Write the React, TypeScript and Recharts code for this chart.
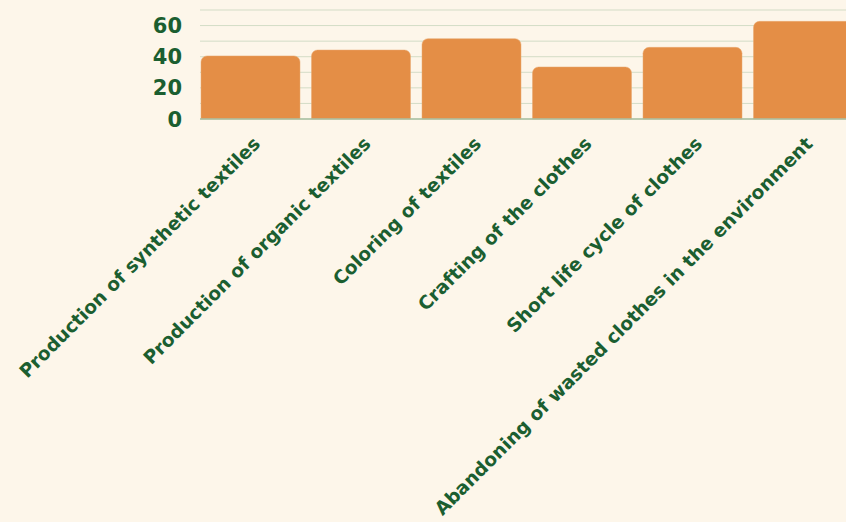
import React from "react";
import { BarChart, Bar, XAxis, YAxis, CartesianGrid } from "recharts";

const categories = [
  "Production of synthetic textiles",
  "Production of organic textiles",
  "Coloring of textiles",
  "Crafting of the clothes",
  "Short life cycle of clothes",
  "Abandoning of wasted clothes in the environment",
];
const values = [40.5, 44.3, 51.6, 33.4, 46, 62.7];
const yTicks = [0, 10, 20, 30, 40, 50, 60, 70];
const yLabels = [0, 20, 40, 60];

const data = categories.map((c, i) => ({ name: c, value: values[i] }));

const GREEN = "#1b5e30";
const FONT = "'DejaVu Sans', sans-serif";

const XTick = (props: any) => {
  const { x, y, payload } = props;
  const ax = x + 11;
  const ay = y + 26;
  return (
    <text
      x={ax}
      y={ay}
      transform={`rotate(-45 ${ax} ${ay})`}
      textAnchor="end"
      fill={GREEN}
      fontFamily={FONT}
      fontWeight="bold"
      fontSize={18.6}
    >
      {payload.value}
    </text>
  );
};

const YTick = (props: any) => {
  const { y, payload } = props;
  if (!yLabels.includes(payload.value)) return <g />;
  return (
    <text
      x={182}
      y={y + 7.5}
      textAnchor="end"
      fill={GREEN}
      fontFamily={FONT}
      fontWeight="bold"
      fontSize={21}
    >
      {payload.value}
    </text>
  );
};

export default function App() {
  return (
    <div
      style={{
        position: "fixed",
        left: 0,
        top: 0,
        width: 846,
        height: 522,
        overflow: "hidden",
        background: "#fdf6ea",
      }}
    >
      <BarChart
        width={858}
        height={522}
        data={data}
        margin={{ top: 10, right: 0, bottom: 0, left: 0 }}
      >
        <CartesianGrid vertical={false} stroke="#d3dcc6" strokeWidth={1} />
        <XAxis
          dataKey="name"
          interval={0}
          height={403}
          padding={{ left: -5, right: 0 }}
          tickLine={false}
          tickSize={0}
          tickMargin={0}
          axisLine={{ stroke: "#a9bfa2", strokeWidth: 1.5 }}
          tick={<XTick />}
        />
        <YAxis
          width={200}
          domain={[0, 70]}
          ticks={yTicks}
          interval={0}
          axisLine={false}
          tickLine={false}
          tickSize={0}
          tickMargin={0}
          tick={<YTick />}
        />
        <Bar
          dataKey="value"
          fill="#e48e46"
          stroke="#e9a870"
          strokeWidth={0.5}
          barSize={99}
          radius={[6, 6, 0, 0]}
          isAnimationActive={false}
        />
      </BarChart>
    </div>
  );
}
